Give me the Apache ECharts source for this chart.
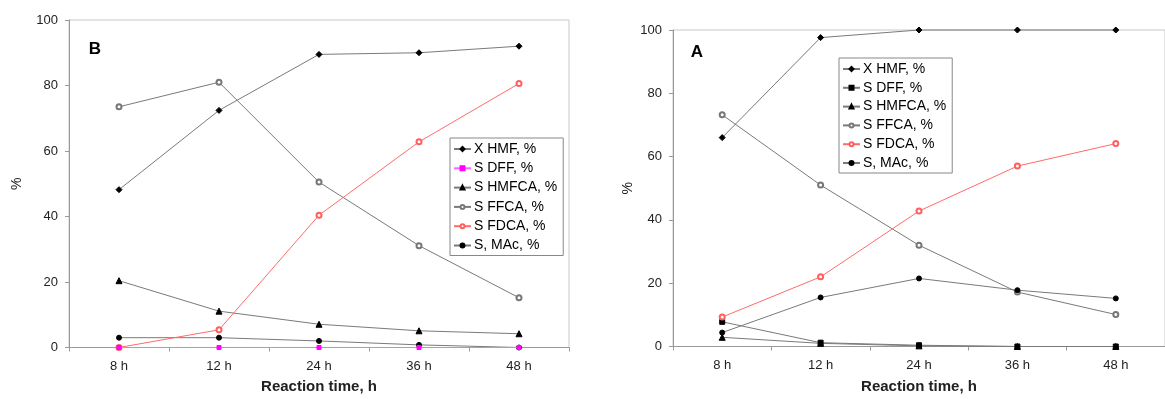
<!DOCTYPE html>
<html>
<head>
<meta charset="utf-8">
<script src="https://cdn.jsdelivr.net/npm/echarts@6/dist/echarts.min.js"></script>
<style>
html,body{margin:0;padding:0;background:#fff;}
#chart{width:1165px;height:399px;}
</style>
</head>
<body>
<div id="chart"></div>
<script>
// ---- Data ----
var categories = ['8 h', '12 h', '24 h', '36 h', '48 h'];
var seriesNames = ['X HMF, %', 'S DFF, %', 'S HMFCA, %', 'S FFCA, %', 'S FDCA, %', 'S, MAc, %'];
var yTicks = [0, 20, 40, 60, 80, 100];

// Panel B (left)
var B_xHMF  = [48.2, 72.4, 89.5, 90.0, 92.0];
var B_sDFF  = [0, 0, 0, 0, 0];
var B_sHMFCA= [20.4, 11.1, 7.1, 5.1, 4.2];
var B_sFFCA = [73.5, 81.0, 50.5, 31.1, 15.2];
var B_sFDCA = [0, 5.4, 40.4, 62.8, 80.6];
var B_sMAc  = [3.0, 3.0, 2.0, 0.8, 0];

// Panel A (right)
var A_xHMF  = [66.0, 97.6, 100, 100, 100];
var A_sDFF  = [7.8, 1.2, 0.4, 0, 0];
var A_sHMFCA= [2.9, 1.0, 0.2, 0, 0];
var A_sFFCA = [73.2, 51.0, 32.0, 17.2, 10.1];
var A_sFDCA = [9.3, 22.0, 42.8, 57.0, 64.1];
var A_sMAc  = [4.4, 15.5, 21.5, 17.8, 15.2];

var panelLabels = ['B', 'A'];
var xTitle = 'Reaction time, h';
var yTitle = '%';

// ---- Styles ----
var FONT = '"Liberation Sans", Arial, sans-serif';
var grayLine = '#7a7a7a';
function mk(name, data, idx, symbol, size, markColor, lineColor, z) {
  return {
    type: 'line', name: name, data: data,
    xAxisIndex: idx, yAxisIndex: idx,
    symbol: symbol, symbolSize: size, clip: false,
    itemStyle: {color: markColor, borderColor: markColor, borderWidth: 1},
    lineStyle: {color: lineColor, width: 1},
    emphasis: {disabled: true},
    animation: false, z: z || 2
  };
}

var series = [
  mk(seriesNames[0], B_xHMF, 0, 'diamond', 6, '#000', grayLine),
  mk(seriesNames[2], B_sHMFCA, 0, 'triangle', 6, '#000', grayLine),
  mk(seriesNames[3], B_sFFCA, 0, 'emptyCircle', 5, '#777', grayLine),
  mk(seriesNames[5], B_sMAc, 0, 'circle', 5, '#000', grayLine),
  mk(seriesNames[4], B_sFDCA, 0, 'emptyCircle', 5, '#ff5f5f', '#ff6b6b', 3),
  mk(seriesNames[1], B_sDFF, 0, 'rect', 4, '#ff00ff', '#ff66ff', 4),

  mk(seriesNames[0], A_xHMF, 1, 'diamond', 6, '#000', grayLine),
  mk(seriesNames[1], A_sDFF, 1, 'rect', 5, '#000', grayLine),
  mk(seriesNames[2], A_sHMFCA, 1, 'triangle', 6, '#000', grayLine),
  mk(seriesNames[3], A_sFFCA, 1, 'emptyCircle', 5, '#777', grayLine),
  mk(seriesNames[4], A_sFDCA, 1, 'emptyCircle', 5, '#ff5f5f', '#ff6b6b', 3),
  mk(seriesNames[5], A_sMAc, 1, 'circle', 5, '#000', grayLine)
];

function xAx(idx, gap) {
  return {
    type: 'category', gridIndex: idx, data: categories, boundaryGap: true,
    axisLine: {lineStyle: {color: '#999', width: 1}},
    axisTick: {show: true, length: 4, interval: 0, lineStyle: {color: '#999'}},
    axisLabel: {color: '#222', fontSize: 13, margin: 12, fontFamily: FONT},
    name: xTitle, nameLocation: 'middle', nameGap: gap,
    nameTextStyle: {color: '#222', fontSize: 15, fontWeight: 'bold', fontFamily: FONT, verticalAlign: 'middle', align: 'center'}
  };
}
function yAx(idx, gap) {
  return {
    type: 'value', gridIndex: idx, min: 0, max: 100, interval: 20,
    axisLine: {show: true, lineStyle: {color: '#999', width: 1}},
    axisTick: {show: true, length: 4, lineStyle: {color: '#999'}},
    splitLine: {show: false},
    axisLabel: {color: '#222', fontSize: 13, margin: 11, fontFamily: FONT},
    name: yTitle, nameLocation: 'middle', nameGap: gap, nameRotate: 90,
    nameTextStyle: {color: '#222', fontSize: 14, fontFamily: FONT, verticalAlign: 'middle', align: 'center'}
  };
}

function legendData(idx) {
  var out = [];
  seriesNames.forEach(function (n) {
    if (n === 'S DFF, %') {
      if (idx === 1) {
        out.push({name: n, itemStyle: {color: '#000', borderColor: '#000'}, lineStyle: {color: grayLine}});
      } else {
        out.push({name: n, itemStyle: {color: '#ff00ff', borderColor: '#ff00ff'}, lineStyle: {color: '#ff66ff'}});
      }
    } else {
      out.push({name: n});
    }
  });
  return out;
}
function leg(idx, left, top, gap) {
  return {
    orient: 'vertical', left: left, top: top,
    data: legendData(idx),
    itemWidth: 17, itemHeight: 5, itemGap: gap,
    padding: [4, 6, 3, 3],
    borderColor: '#888', borderWidth: 1,
    backgroundColor: '#fff',
    selectedMode: false,
    textStyle: {color: '#000', fontSize: 14, lineHeight: 14, padding: [0, 0, 0, -2], fontFamily: FONT}
  };
}

var chart = echarts.init(document.getElementById('chart'), null, {renderer: 'canvas'});
chart.setOption({
  animation: false,
  backgroundColor: '#fff',
  grid: [
    {left: 69, top: 20, width: 500, height: 331, show: true, borderColor: '#c8c8c8', borderWidth: 1, backgroundColor: 'transparent'},
    {left: 673, top: 30, width: 500, height: 323, show: true, borderColor: '#c8c8c8', borderWidth: 1, backgroundColor: 'transparent'}
  ],
  xAxis: [xAx(0, 39), xAx(1, 40)],
  yAxis: [yAx(0, 52), yAx(1, 45)],
  legend: [leg(0, 450, 138, 5.3), leg(1, 839, 58, 4.8)],
  graphic: [
    {type: 'text', x: 95, y: 49, style: {text: panelLabels[0], font: 'bold 17px ' + FONT, fill: '#000', align: 'center', verticalAlign: 'middle'}},
    {type: 'text', x: 697, y: 52, style: {text: panelLabels[1], font: 'bold 17px ' + FONT, fill: '#000', align: 'center', verticalAlign: 'middle'}}
  ],
  series: series
});
</script>
</body>
</html>
